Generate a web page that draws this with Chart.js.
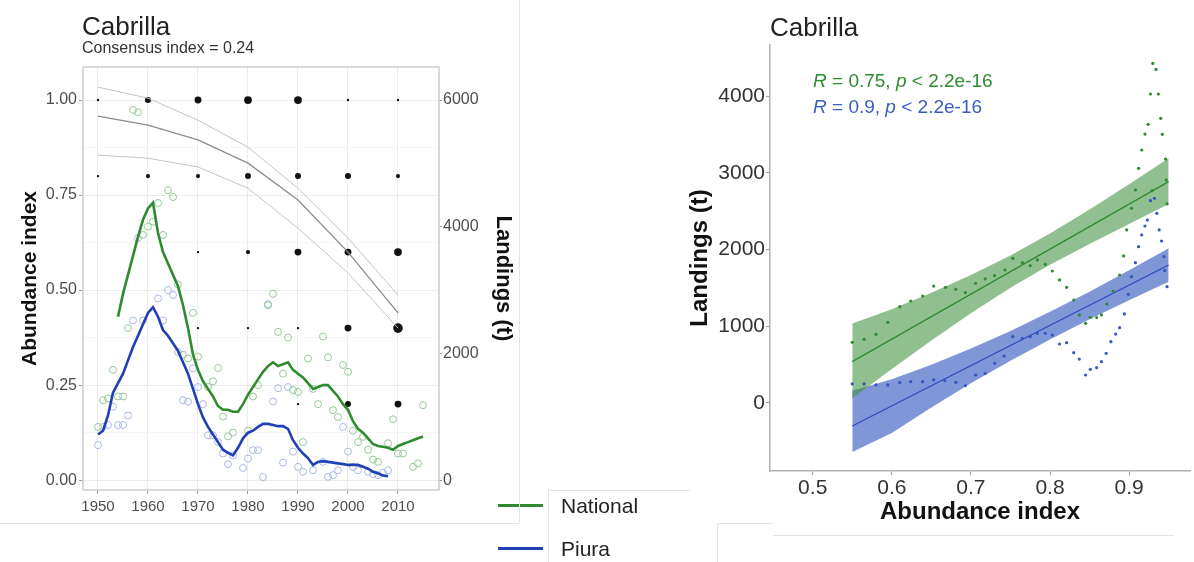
<!DOCTYPE html>
<html>
<head>
<meta charset="utf-8">
<script src="https://cdn.jsdelivr.net/npm/chart.js@4.4.1/dist/chart.umd.min.js"></script>
<style>
  body { margin: 0; background: #fff; font-family: "Liberation Sans", Arial, sans-serif; }
  #page { position: relative; width: 1194px; height: 562px; overflow: hidden; }
  .txt { position: absolute; white-space: nowrap; line-height: 1; }
  .rule { position: absolute; background: #e4e4e4; }
  .key { position: absolute; height: 3px; }
  canvas { position: absolute; top: 0; }
</style>
</head>
<body>
<div id="page">
  <canvas id="trend" width="520" height="530" style="left:0"></canvas>
  <canvas id="fit" width="514" height="540" style="left:680px"></canvas>

  <div class="txt" style="left:82px; top:13px; font-size:26px; color:#222">Cabrilla</div>
  <div class="txt" style="left:82px; top:40px; font-size:16px; color:#333">Consensus index = 0.24</div>

  <div class="key" style="left:498px; top:504px; width:45px; background:#2e8b2e"></div>
  <div class="txt" style="left:561px; top:495px; font-size:21px; color:#222">National</div>
  <div class="key" style="left:498px; top:547px; width:45px; background:#1f3fb4"></div>
  <div class="txt" style="left:561px; top:538px; font-size:21px; color:#222">Piura</div>

  <div class="txt" style="left:770px; top:14px; font-size:26px; color:#222">Cabrilla</div>
  <div class="txt" style="left:813px; top:71px; font-size:19px; color:#2e8b2e"><i>R</i> = 0.75, <i>p</i> &lt; 2.2e-16</div>
  <div class="txt" style="left:813px; top:97px; font-size:19px; color:#3a5cc4"><i>R</i> = 0.9, <i>p</i> &lt; 2.2e-16</div>

  <div class="rule" style="left:519px; top:0; width:1px; height:523px"></div>
  <div class="rule" style="left:0; top:523px; width:519px; height:1px"></div>
  <div class="rule" style="left:548px; top:490px; width:1px; height:72px"></div>
  <div class="rule" style="left:548px; top:490px; width:142px; height:1px"></div>
  <div class="rule" style="left:717px; top:523px; width:1px; height:39px"></div>
  <div class="rule" style="left:717px; top:523px; width:56px; height:1px"></div>
  <div class="rule" style="left:773px; top:535px; width:401px; height:1px"></div>
</div>
<script>
// left panel: time series
const yearsAll = [1950, 1951, 1952, 1953, 1954, 1955, 1956, 1957, 1958, 1959,
  1960, 1961, 1962, 1963, 1964, 1965, 1966, 1967, 1968, 1969,
  1970, 1971, 1972, 1973, 1974, 1975, 1976, 1977, 1978, 1979,
  1980, 1981, 1982, 1983, 1984, 1985, 1986, 1987, 1988, 1989,
  1990, 1991, 1992, 1993, 1994, 1995, 1996, 1997, 1998, 1999,
  2000, 2001, 2002, 2003, 2004, 2005, 2006, 2007, 2008, 2009,
  2010, 2011, 2012, 2013, 2014, 2015];

const natSmooth = [null, null, null, null, 0.43, 0.49, 0.54, 0.59, 0.64, 0.685,
  0.715, 0.73, 0.65, 0.60, 0.57, 0.54, 0.51, 0.46, 0.40, 0.33,
  0.29, 0.26, 0.24, 0.22, 0.195, 0.185, 0.185, 0.18, 0.18, 0.20,
  0.225, 0.245, 0.265, 0.285, 0.30, 0.31, 0.30, 0.305, 0.31, 0.29,
  0.28, 0.27, 0.255, 0.24, 0.245, 0.25, 0.25, 0.235, 0.22, 0.20,
  0.185, 0.155, 0.135, 0.125, 0.11, 0.095, 0.09, 0.088, 0.085, 0.08,
  0.09, 0.095, 0.10, 0.105, 0.11, 0.115];

const pirSmooth = [0.12, 0.13, 0.17, 0.23, 0.255, 0.28, 0.315, 0.35, 0.38, 0.41,
  0.44, 0.455, 0.43, 0.395, 0.38, 0.36, 0.34, 0.31, 0.28, 0.24,
  0.20, 0.165, 0.14, 0.12, 0.10, 0.08, 0.072, 0.065, 0.085, 0.11,
  0.125, 0.13, 0.14, 0.148, 0.148, 0.145, 0.142, 0.142, 0.135, 0.105,
  0.085, 0.07, 0.058, 0.04, 0.048, 0.05, 0.048, 0.046, 0.044, 0.042,
  0.04, 0.04, 0.04, 0.035, 0.03, 0.022, 0.018, 0.012, 0.01, null,
  null, null, null, null, null, null];

const natObs = [0.14, 0.21, 0.215, 0.29, 0.22, 0.22, 0.40, 0.974, 0.968, 0.645,
  0.667, 0.68, 0.729, 0.645, 0.763, 0.745, 0.515, 0.33, 0.32, 0.44,
  0.325, null, 0.245, 0.26, 0.295, 0.167, 0.115, 0.125, null, null,
  0.13, 0.22, 0.25, null, 0.46, 0.49, 0.39, 0.28, 0.375, 0.237,
  0.232, 0.10, 0.32, 0.24, 0.20, 0.378, 0.323, 0.184, 0.166, 0.303,
  0.285, 0.13, 0.10, 0.114, 0.08, 0.054, 0.048, null, 0.097, 0.16,
  0.07, 0.07, null, 0.035, 0.044, 0.197];

const pirObs = [0.092, 0.14, 0.145, 0.193, 0.145, 0.145, 0.17, 0.42, 0.637, 0.42,
  null, null, 0.478, 0.42, 0.50, 0.487, 0.337, 0.21, 0.206, 0.294,
  0.245, 0.20, 0.118, 0.118, 0.10, 0.07, 0.042, 0.065, null, 0.032,
  0.057, 0.079, 0.079, 0.008, 0.463, 0.207, 0.242, 0.046, 0.245, 0.075,
  0.035, 0.022, null, 0.026, null, 0.048, 0.009, 0.013, 0.026, 0.14,
  0.075, 0.035, 0.026, null, 0.022, 0.016, 0.013, 0.019, 0.026, null,
  null, null, null, null, null, null];

const consYears = [1950, 1960, 1970, 1980, 1990, 2000, 2010];
const consMid = [0.958, 0.934, 0.895, 0.834, 0.737, 0.600, 0.440];
const consUpper = [1.034, 1.005, 0.947, 0.876, 0.768, 0.637, 0.487];
const consLower = [0.855, 0.847, 0.824, 0.768, 0.663, 0.545, 0.400];

// dot matrix: rows are index levels, columns are consYears
const dotLevels = [1.0, 0.8, 0.6, 0.4, 0.2];
const dotWeights = [
  [1, 3, 3.5, 4, 4, 1, 1],
  [1, 2, 2, 3, 3, 3, 2],
  [0, 0, 1, 2, 3.5, 3.5, 4],
  [0, 0, 1, 1, 1, 3.5, 5],
  [0, 0, 0, 0, 1, 3, 3.5]
];

const yearTicks = [1950, 1955, 1960, 1965, 1970, 1975, 1980, 1985, 1990, 1995, 2000, 2005, 2010, 2015];
const indexTicks = [0, 0.125, 0.25, 0.375, 0.5, 0.625, 0.75, 0.875, 1.0];
const landTicks = [0, 2000, 4000, 6000];

// right panel: landings vs abundance index
const natIndex = [0.550, 0.565, 0.580, 0.595, 0.610, 0.624, 0.639, 0.653, 0.668, 0.681,
  0.693, 0.706, 0.718, 0.730, 0.743, 0.753, 0.765, 0.775, 0.784, 0.794,
  0.803, 0.812, 0.821, 0.830, 0.837, 0.845, 0.851, 0.859, 0.865, 0.872,
  0.880, 0.888, 0.893, 0.897, 0.903, 0.908, 0.912, 0.916, 0.920, 0.924,
  0.927, 0.930, 0.934, 0.937, 0.940, 0.942, 0.946, 0.947, 0.929, 0.948];
const natLand = [791, 830, 895, 1052, 1256, 1330, 1395, 1525, 1508, 1482,
  1439, 1561, 1617, 1660, 1734, 1886, 1830, 1791, 1865, 1808,
  1721, 1604, 1508, 1343, 1148, 1039, 1117, 1113, 1148, 1290,
  1460, 1669, 1917, 2256, 2539, 2777, 3060, 3299, 3507, 3633,
  4029, 4428, 4350, 4029, 3712, 3503, 3181, 2907, 2768, 2595];

const pirIndex = [0.550, 0.565, 0.580, 0.595, 0.610, 0.624, 0.639, 0.653, 0.667, 0.681,
  0.693, 0.706, 0.718, 0.730, 0.742, 0.753, 0.765, 0.775, 0.784, 0.794,
  0.803, 0.812, 0.821, 0.830, 0.837, 0.845, 0.851, 0.859, 0.865, 0.871,
  0.877, 0.883, 0.888, 0.894, 0.899, 0.903, 0.908, 0.912, 0.916, 0.920,
  0.923, 0.927, 0.932, 0.935, 0.938, 0.941, 0.944, 0.945, 0.948];
const pirLand = [248, 248, 235, 235, 265, 278, 278, 300, 291, 269,
  226, 365, 387, 517, 612, 865, 843, 865, 908, 908,
  886, 769, 786, 656, 573, 365, 439, 461, 539, 647,
  799, 899, 982, 1161, 1417, 1647, 1830, 2038, 2191, 2308,
  2386, 2638, 2669, 2473, 2256, 2112, 1908, 1726, 1517];

// fitted lines and confidence bands, read at these index values
const bandIndex = [0.55, 0.60, 0.65, 0.70, 0.75, 0.80, 0.85, 0.90, 0.95];
const natFit = [539, 832, 1126, 1419, 1713, 2006, 2299, 2593, 2886];
const natUpper = [1035, 1222, 1436, 1669, 1923, 2211, 2524, 2853, 3190];
const natLower = [61, 442, 816, 1169, 1503, 1801, 2074, 2333, 2595];
const pirFit = [-300, -45, 218, 482, 745, 1009, 1272, 1536, 1799];
const pirUpper = [160, 310, 500, 710, 940, 1189, 1452, 1731, 2017];
const pirLower = [-640, -390, -60, 257, 550, 829, 1092, 1341, 1582];

const fitTicksX = [0.5, 0.6, 0.7, 0.8, 0.9];
const fitTicksY = [0, 1000, 2000, 3000, 4000];

const GREEN = '#2e8b2e';
const BLUE = '#1f3fb4';
const FONT = '"Liberation Sans", Arial, sans-serif';

function pairs(xs, ys) {
  return xs.map((x, i) => ({ x, y: ys[i] }));
}
function present(xs, ys) {
  return pairs(xs, ys).filter(p => p.y != null);
}
function fixedTicks(vals) {
  return scale => { scale.ticks = vals.map(v => ({ value: v })); };
}

const panelBox = {
  id: 'panelBox',
  beforeDatasetsDraw(chart, args, opts) {
    const { ctx, chartArea: a } = chart;
    ctx.save();
    ctx.strokeStyle = opts.color;
    ctx.lineWidth = opts.width;
    ctx.strokeRect(a.left, a.top, a.right - a.left, a.bottom - a.top);
    ctx.restore();
  }
};

function buildDots() {
  const pts = [];
  const radii = [];
  dotLevels.forEach((lvl, r) => {
    consYears.forEach((yr, c) => {
      const w = dotWeights[r][c];
      if (!w) return;
      pts.push({ x: yr, y: lvl });
      radii.push(0.9 * w + 0.3);
    });
  });
  return { pts, radii };
}

function initTrend() {
  const dots = buildDots();
  const line = (data, color, width, order) => ({
    data, showLine: true, borderColor: color, borderWidth: width,
    pointRadius: 0, fill: false, order
  });
  const rings = (data, color) => ({
    data, showLine: false, pointRadius: 3.5, pointBorderWidth: 1,
    pointBorderColor: color, pointBackgroundColor: 'rgba(0,0,0,0)', order: 3
  });

  new Chart(document.getElementById('trend'), {
    type: 'scatter',
    data: {
      datasets: [
        { data: dots.pts, pointRadius: dots.radii, pointBackgroundColor: '#111', pointBorderWidth: 0, order: 6 },
        line(pairs(consYears, consUpper), '#c4c4c4', 1, 5),
        line(pairs(consYears, consLower), '#c4c4c4', 1, 5),
        line(pairs(consYears, consMid), '#8c8c8c', 1.3, 5),
        rings(present(yearsAll, natObs), '#93c993'),
        rings(present(yearsAll, pirObs), '#a9b8e6'),
        line(pairs(yearsAll, natSmooth), GREEN, 2.6, 1),
        line(pairs(yearsAll, pirSmooth), BLUE, 2.6, 1)
      ]
    },
    options: {
      responsive: false,
      animation: false,
      layout: { padding: { top: 67, left: 0, right: 0, bottom: 0 } },
      plugins: {
        legend: { display: false },
        tooltip: { enabled: false },
        panelBox: { color: '#d0d0d0', width: 1.6 }
      },
      scales: {
        x: {
          type: 'linear', min: 1947, max: 2018.2,
          afterBuildTicks: fixedTicks(yearTicks),
          afterFit: s => { s.height = 40; },
          border: { display: false },
          grid: {
            color: c => (c.tick && c.tick.value % 10 ? '#f6f6f6' : '#ececec'),
            tickColor: c => (c.tick && c.tick.value % 10 ? 'rgba(0,0,0,0)' : '#9a9a9a'),
            tickLength: 4, lineWidth: 1
          },
          ticks: {
            callback: v => (v % 10 ? '' : String(v)),
            color: '#4d4d4d', font: { family: FONT, size: 15 }, padding: 4, maxRotation: 0
          }
        },
        y: {
          min: -0.026, max: 1.087,
          afterBuildTicks: fixedTicks(indexTicks),
          afterFit: s => { s.width = 83; },
          border: { display: false },
          grid: {
            color: c => (c.tick && (c.tick.value * 8) % 2 ? '#f6f6f6' : '#ececec'),
            tickColor: c => (c.tick && (c.tick.value * 8) % 2 ? 'rgba(0,0,0,0)' : '#9a9a9a'),
            tickLength: 4
          },
          ticks: {
            callback: v => ((v * 8) % 2 ? '' : v.toFixed(2)),
            color: '#4d4d4d', font: { family: FONT, size: 16 }, padding: 2
          },
          title: {
            display: true, text: 'Abundance index', color: '#111',
            font: { family: FONT, size: 21, weight: 'bold' }, padding: { top: 18, bottom: 0 }
          }
        },
        y2: {
          position: 'right', min: -156, max: 6522,
          afterBuildTicks: fixedTicks(landTicks),
          afterFit: s => { s.width = 81; },
          border: { display: false },
          grid: { drawOnChartArea: false, tickColor: '#9a9a9a', tickLength: 3 },
          ticks: { callback: v => String(v), color: '#4d4d4d', font: { family: FONT, size: 16 }, padding: 1 },
          title: {
            display: true, text: 'Landings (t)', color: '#111',
            font: { family: FONT, size: 22, weight: 'bold' }, padding: { top: 4, bottom: 0 }
          }
        }
      }
    },
    plugins: [panelBox]
  });
}

function initFit() {
  const band = (ys, color, fillTo) => ({
    data: pairs(bandIndex, ys), showLine: true, borderWidth: 0, borderColor: 'rgba(0,0,0,0)',
    pointRadius: 0, backgroundColor: color, fill: fillTo, order: 3
  });
  const fitLine = (ys, color) => ({
    data: [pairs(bandIndex, ys)[0], pairs(bandIndex, ys)[bandIndex.length - 1]],
    showLine: true, borderColor: color, borderWidth: 1.3, pointRadius: 0, fill: false, order: 2
  });
  const pts = (xs, ys, color) => ({
    data: pairs(xs, ys), showLine: false, pointRadius: 1.6, pointBorderWidth: 0,
    pointBackgroundColor: color, order: 1
  });

  new Chart(document.getElementById('fit'), {
    type: 'scatter',
    data: {
      datasets: [
        band(natLower, 'rgba(0,0,0,0)', false),
        band(natUpper, 'rgba(60,145,60,0.57)', '-1'),
        band(pirLower, 'rgba(0,0,0,0)', false),
        band(pirUpper, 'rgba(60,95,195,0.66)', '-1'),
        fitLine(natFit, GREEN),
        fitLine(pirFit, '#2a4cc0'),
        pts(natIndex, natLand, '#2e8b2e'),
        pts(pirIndex, pirLand, '#3556c6')
      ]
    },
    options: {
      responsive: false,
      animation: false,
      layout: { padding: { top: 45, left: 0, right: 0, bottom: 0 } },
      plugins: { legend: { display: false }, tooltip: { enabled: false } },
      scales: {
        x: {
          type: 'linear', min: 0.446, max: 0.977,
          afterBuildTicks: fixedTicks(fitTicksX),
          afterFit: s => { s.height = 69; },
          border: { display: true, color: '#b0b0b0', width: 1.5 },
          grid: { drawOnChartArea: false, tickColor: '#9a9a9a', tickLength: 4 },
          ticks: {
            callback: v => v.toFixed(1),
            color: '#333', font: { family: FONT, size: 21 }, padding: 1, maxRotation: 0
          },
          title: {
            display: true, text: 'Abundance index', color: '#111',
            font: { family: FONT, size: 24, weight: 'bold' }, padding: { top: 0, bottom: 13 }
          }
        },
        y: {
          min: -887, max: 4668,
          afterBuildTicks: fixedTicks(fitTicksY),
          afterFit: s => { s.width = 90; },
          border: { display: true, color: '#b0b0b0', width: 1.5 },
          grid: { drawOnChartArea: false, tickColor: '#9a9a9a', tickLength: 4 },
          ticks: { callback: v => String(v), color: '#333', font: { family: FONT, size: 21 }, padding: 1 },
          title: {
            display: true, text: 'Landings (t)', color: '#111',
            font: { family: FONT, size: 24, weight: 'bold' }, padding: { top: 6, bottom: 0 }
          }
        }
      }
    }
  });
}

initTrend();
initFit();
</script>
</body>
</html>
